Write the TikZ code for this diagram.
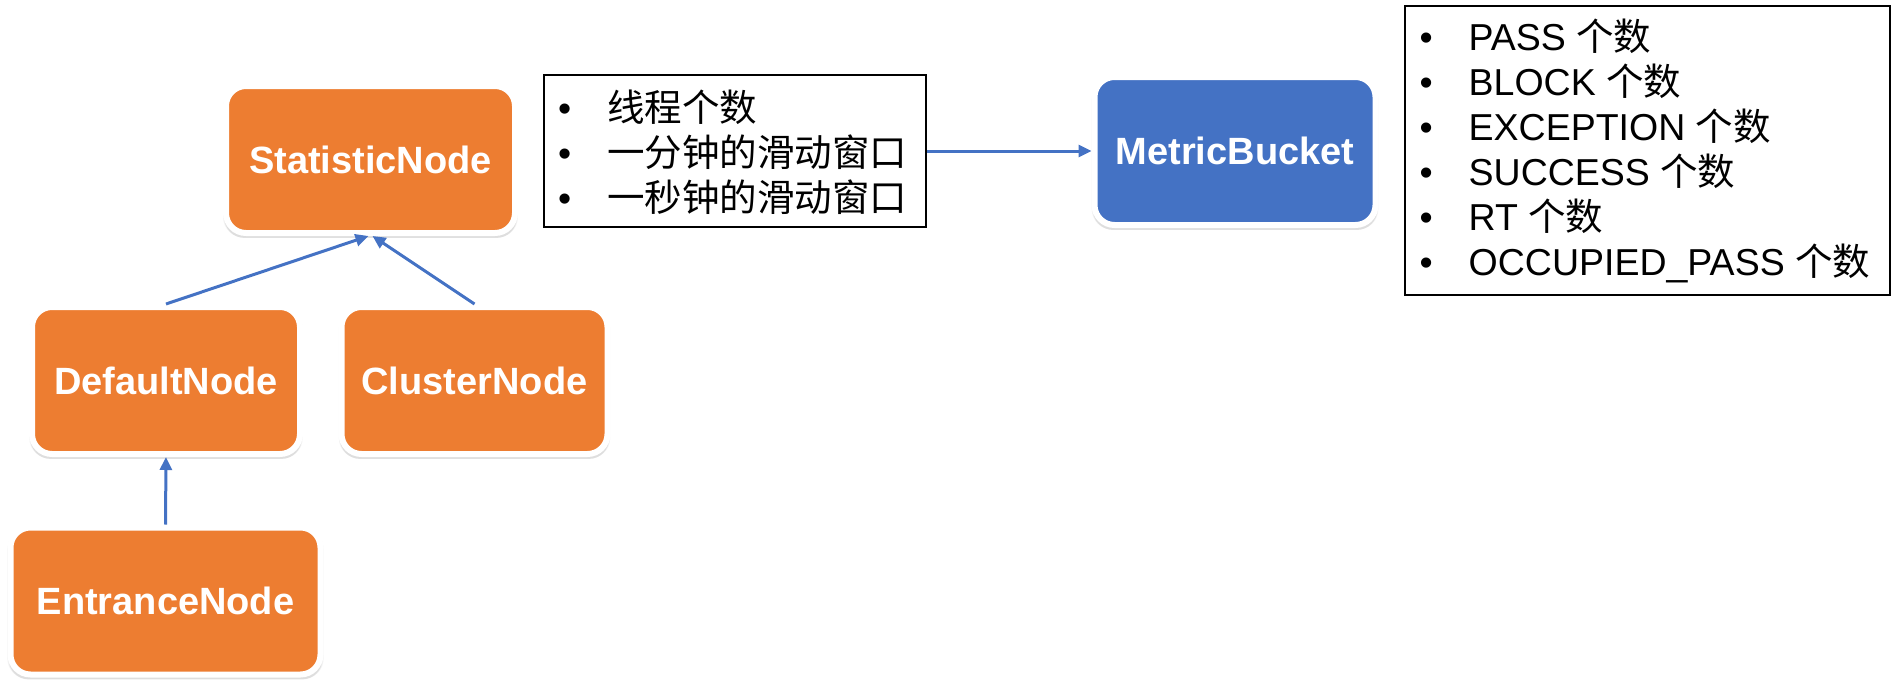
\documentclass[tikz,border=0pt]{standalone}
\usepackage{fontspec}
\setmainfont{Liberation Sans}
\newfontfamily\cjk{Noto Sans CJK SC}
\usetikzlibrary{arrows.meta,shadows}
\definecolor{orng}{HTML}{ED7D31}
\definecolor{blu}{HTML}{4472C4}
\tikzset{
 nodebox/.style={rectangle, rounded corners=20pt, draw=white, line width=6pt, text=white,
   font=\fontsize{38}{44}\selectfont\bfseries,
   general shadow={shadow scale=1.012, shadow xshift=0pt, shadow yshift=-4pt, fill=black!35, opacity=0.3},
   general shadow={shadow scale=1.02, shadow xshift=0pt, shadow yshift=-3pt, fill=black!20, opacity=0.25}},
 orangebox/.style={nodebox, fill=orng},
 bluebox/.style={nodebox, fill=blu},
 link/.style={draw=blu, line width=3pt, -{Triangle[length=13pt,width=12pt]}},
 listbox/.style={draw=black, line width=2pt, rectangle, inner sep=0pt},
 listtext/.style={anchor=west, align=left, font=\fontsize{37.5}{45}\selectfont, inner sep=0pt},
}
\newcommand{\bul}{\makebox[49pt][l]{•}}
\begin{document}
\begin{tikzpicture}[x=1pt,y=-1pt]
\useasboundingbox (0,0) rectangle (1892,688);
\node[orangebox, minimum width=289pt, minimum height=147pt] (stat) at (370.5,159.5) {StatisticNode};
\node[orangebox, minimum width=268pt, minimum height=147pt] (def) at (166,380.5) {DefaultNode};
\node[orangebox, minimum width=266pt, minimum height=147pt] (clu) at (474.5,380.5) {ClusterNode};
\node[orangebox, minimum width=310pt, minimum height=147pt] (ent) at (165.5,601) {EntranceNode};
\node[bluebox, minimum width=281pt, minimum height=148pt] (mb) at (1235,151) {MetricBucket};
\node[listbox, minimum width=382pt, minimum height=152pt] (box1) at (735,151) {};
\node[listbox, minimum width=485pt, minimum height=289pt] (box2) at (1647.5,150.5) {};
\node[listtext] (t1) at (558,152) {\bul{\cjk 线程个数}\\ \bul{\cjk 一分钟的滑动窗口}\\ \bul{\cjk 一秒钟的滑动窗口}};
\node[listtext] (t2) at (1419.5,150.5) {\bul PASS {\cjk 个数}\\ \bul BLOCK {\cjk 个数}\\ \bul EXCEPTION {\cjk 个数}\\ \bul SUCCESS {\cjk 个数}\\ \bul RT {\cjk 个数}\\ \bul OCCUPIED\_PASS {\cjk 个数}};
\draw[link] (ent.north) -- (def.south);
\draw[link] (def.north) -- ([xshift=-2pt]stat.south);
\draw[link] (clu.north) -- ([xshift=2pt]stat.south);
\draw[link] (box1.east) -- (mb.west);
\end{tikzpicture}
\end{document}
